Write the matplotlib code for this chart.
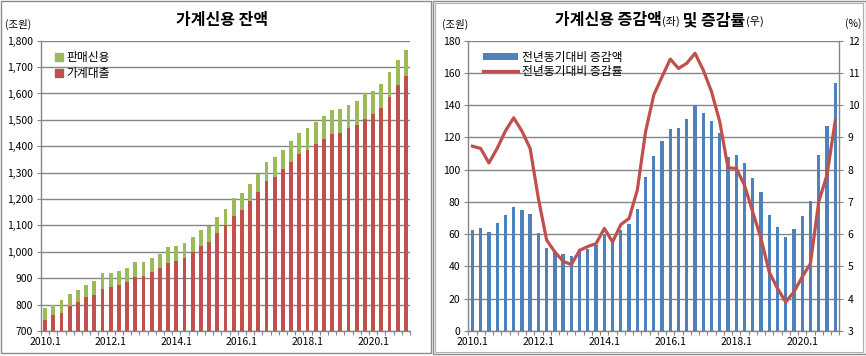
import matplotlib
matplotlib.use('Agg')
import matplotlib.pyplot as plt
from matplotlib.patches import Rectangle, Patch
from matplotlib.lines import Line2D
import numpy as np

plt.rcParams['font.family'] = ['Noto Sans CJK KR', 'DejaVu Sans']

# ---------------- data ----------------
quarters = [f"{y}.{q}" for y in range(2010, 2022) for q in range(1, 5)][:45]
tick_labels = ["2010.1", "2012.1", "2014.1", "2016.1", "2018.1", "2020.1"]

household_loans = [740, 760, 770, 794, 808, 827, 838, 861, 865, 876, 887, 906, 910, 925, 940,
                   959, 967, 978, 1001, 1023, 1038, 1072, 1103, 1136, 1159, 1193, 1227, 1269, 1284, 1314,
                   1340, 1371, 1386, 1409, 1428, 1446, 1450, 1469, 1481, 1503, 1522, 1545, 1587, 1632, 1666]
sales_credit = [46, 40, 46, 48, 49, 49, 53, 57, 53, 53, 53, 57, 53, 53, 53,
                60, 56, 57, 56, 61, 61, 61, 60, 68, 64, 64, 68, 71, 75, 72,
                79, 79, 84, 83, 87, 91, 91, 87, 90, 99, 87, 91, 94, 95, 99]

yoy_change = [62.6, 63.8, 61.3, 66.9, 71.9, 76.9, 75.0, 72.5, 60.7, 51.4, 48.9, 47.7, 46.4, 51.0, 51.1,
              53.2, 59.8, 54.9, 62.5, 66.2, 75.7, 95.6, 108.6, 117.7, 125.2, 125.8, 131.4, 139.9, 135.3, 130.2,
              122.9, 107.8, 109.1, 104.3, 94.8, 86.1, 71.8, 64.4, 58.2, 63.1, 71.2, 80.7, 109.1, 127.1, 153.9]
yoy_rate = [8.73, 8.66, 8.21, 8.66, 9.20, 9.61, 9.20, 8.66, 7.11, 5.82, 5.45, 5.16, 5.06, 5.50, 5.62,
            5.71, 6.18, 5.76, 6.30, 6.49, 7.37, 9.18, 10.32, 10.88, 11.43, 11.14, 11.30, 11.61, 11.09, 10.42,
            9.49, 8.06, 8.04, 7.52, 6.69, 5.87, 4.83, 4.32, 3.90, 4.21, 4.68, 5.09, 7.00, 7.83, 9.51]

# ---------------- style ----------------
GREEN = '#9BBB59'
RED = '#C0504D'
BLUE = '#4F81BD'
GRID = '#868686'
W, H = 866, 356

fig = plt.figure(figsize=(W / 100, H / 100), dpi=100)

def fx(px):
    return px / W

def fy(py):
    return 1 - py / H

# panel borders
fig.add_artist(Rectangle((fx(0.5), fy(353)), fx(430), (353 - 0.5) / H, transform=fig.transFigure,
                         fill=False, edgecolor='#8a8a8a', lw=1))
fig.add_artist(Rectangle((fx(433), fy(354)), fx(865.5 - 433), (354 - 0.5) / H, transform=fig.transFigure,
                         fill=False, edgecolor='#8a8a8a', lw=1))
fig.add_artist(Rectangle((fx(435), fy(352)), fx(863 - 435), (352 - 2.5) / H, transform=fig.transFigure,
                         fill=False, edgecolor='#b0b0b0', lw=0.8))

x = np.arange(len(quarters))
label_pos = [quarters.index(t) for t in tick_labels]


def style_axis(ax):
    ax.set_xlim(-0.5, len(quarters) - 0.5)
    ax.set_xticks(np.arange(-0.5, len(quarters), 1))
    ax.set_xticklabels([])
    ax.tick_params(axis='x', which='major', length=3, color=GRID, width=0.8)
    ax.set_xticks(label_pos, minor=True)
    ax.set_xticklabels(tick_labels, minor=True, fontsize=7.5)
    ax.tick_params(axis='x', which='minor', length=0, pad=4)
    ax.tick_params(axis='y', length=3, color=GRID, width=0.8, labelsize=7.5, pad=3)
    ax.grid(axis='y', color=GRID, lw=1)
    ax.set_axisbelow(True)
    for s in ['top', 'right']:
        ax.spines[s].set_visible(False)
    for s in ['left', 'bottom']:
        ax.spines[s].set_color(GRID)
        ax.spines[s].set_linewidth(1)


# ---------------- left panel ----------------
ax1 = fig.add_axes([fx(41), fy(331), fx(410 - 41), (331 - 40.7) / H])
ax1.bar(x, household_loans, width=0.45, color=RED, label='가계대출', zorder=2)
ax1.bar(x, sales_credit, bottom=household_loans, width=0.45, color=GREEN, label='판매신용', zorder=2)
ax1.set_ylim(700, 1800)
yt = np.arange(700, 1801, 100)
ax1.set_yticks(yt)
ax1.set_yticklabels([f"{v:,}" for v in yt])
style_axis(ax1)
h = [Line2D([], [], marker='s', ls='none', color=GREEN, markersize=6),
     Line2D([], [], marker='s', ls='none', color=RED, markersize=6)]
ax1.legend(h, ['판매신용', '가계대출'], loc='upper left', bbox_to_anchor=(0.02, 0.99), frameon=False,
           fontsize=8.5, handlelength=0.6, handletextpad=0.3, labelspacing=0.3, borderaxespad=0.2)

fig.text(fx(222), fy(20), '가계신용 잔액', ha='center', va='center', fontsize=11.5, fontweight='bold')
fig.text(fx(5), fy(24), '(조원)', ha='left', va='center', fontsize=7.5)

# ---------------- right panel ----------------
ax2 = fig.add_axes([fx(468.3), fy(331), fx(839.3 - 468.3), (331 - 40.7) / H])
ax2.bar(x, yoy_change, width=0.4, color=BLUE, zorder=2)
ax2.set_ylim(0, 180)
ax2.set_yticks(np.arange(0, 181, 20))
style_axis(ax2)

ax3 = ax2.twinx()
ax3.plot(x, yoy_rate, color=RED, lw=2.3, zorder=3)
ax3.set_ylim(3, 12)
ax3.set_yticks(np.arange(3, 13, 1))
ax3.tick_params(axis='y', length=3, color=GRID, width=0.8, labelsize=7.5, pad=3)
for s in ['top', 'left', 'bottom']:
    ax3.spines[s].set_visible(False)
ax3.spines['right'].set_color(GRID)
ax3.spines['right'].set_linewidth(1)

h2 = [Patch(facecolor=BLUE, edgecolor='none'), Line2D([], [], color=RED, lw=2.3)]
leg = ax3.legend(h2, ['전년동기대비 증감액', '전년동기대비 증감률'], loc='upper left',
                 bbox_to_anchor=(0.02, 0.99), frameon=False, fontsize=8.5, handlelength=3.0,
                 handleheight=0.45, handletextpad=0.3, labelspacing=0.1, borderaxespad=0.2)

# title with small (좌)/(우)
parts = [('가계신용 증감액', 11.5, 'bold'), ('(좌)', 8, 'normal'), (' 및 증감률', 11.5, 'bold'), ('(우)', 8, 'normal')]
fig.canvas.draw()
renderer = fig.canvas.get_renderer()
widths = []
texts = []
for s, size, wt in parts:
    t = fig.text(0, 0.5, s, ha='left', va='baseline', fontsize=size, fontweight=wt)
    bb = t.get_window_extent(renderer)
    widths.append(bb.width)
    texts.append(t)
total_w = sum(widths)
start = 659 - total_w / 2
base_y = fy(25)
cur = start
for t, wdt in zip(texts, widths):
    t.set_position((fx(cur), base_y))
    cur += wdt

fig.text(fx(442), fy(24), '(조원)', ha='left', va='center', fontsize=7.5)
fig.text(fx(845), fy(24), '(%)', ha='left', va='center', fontsize=7.5)

fig.savefig('out.png', dpi=100)
